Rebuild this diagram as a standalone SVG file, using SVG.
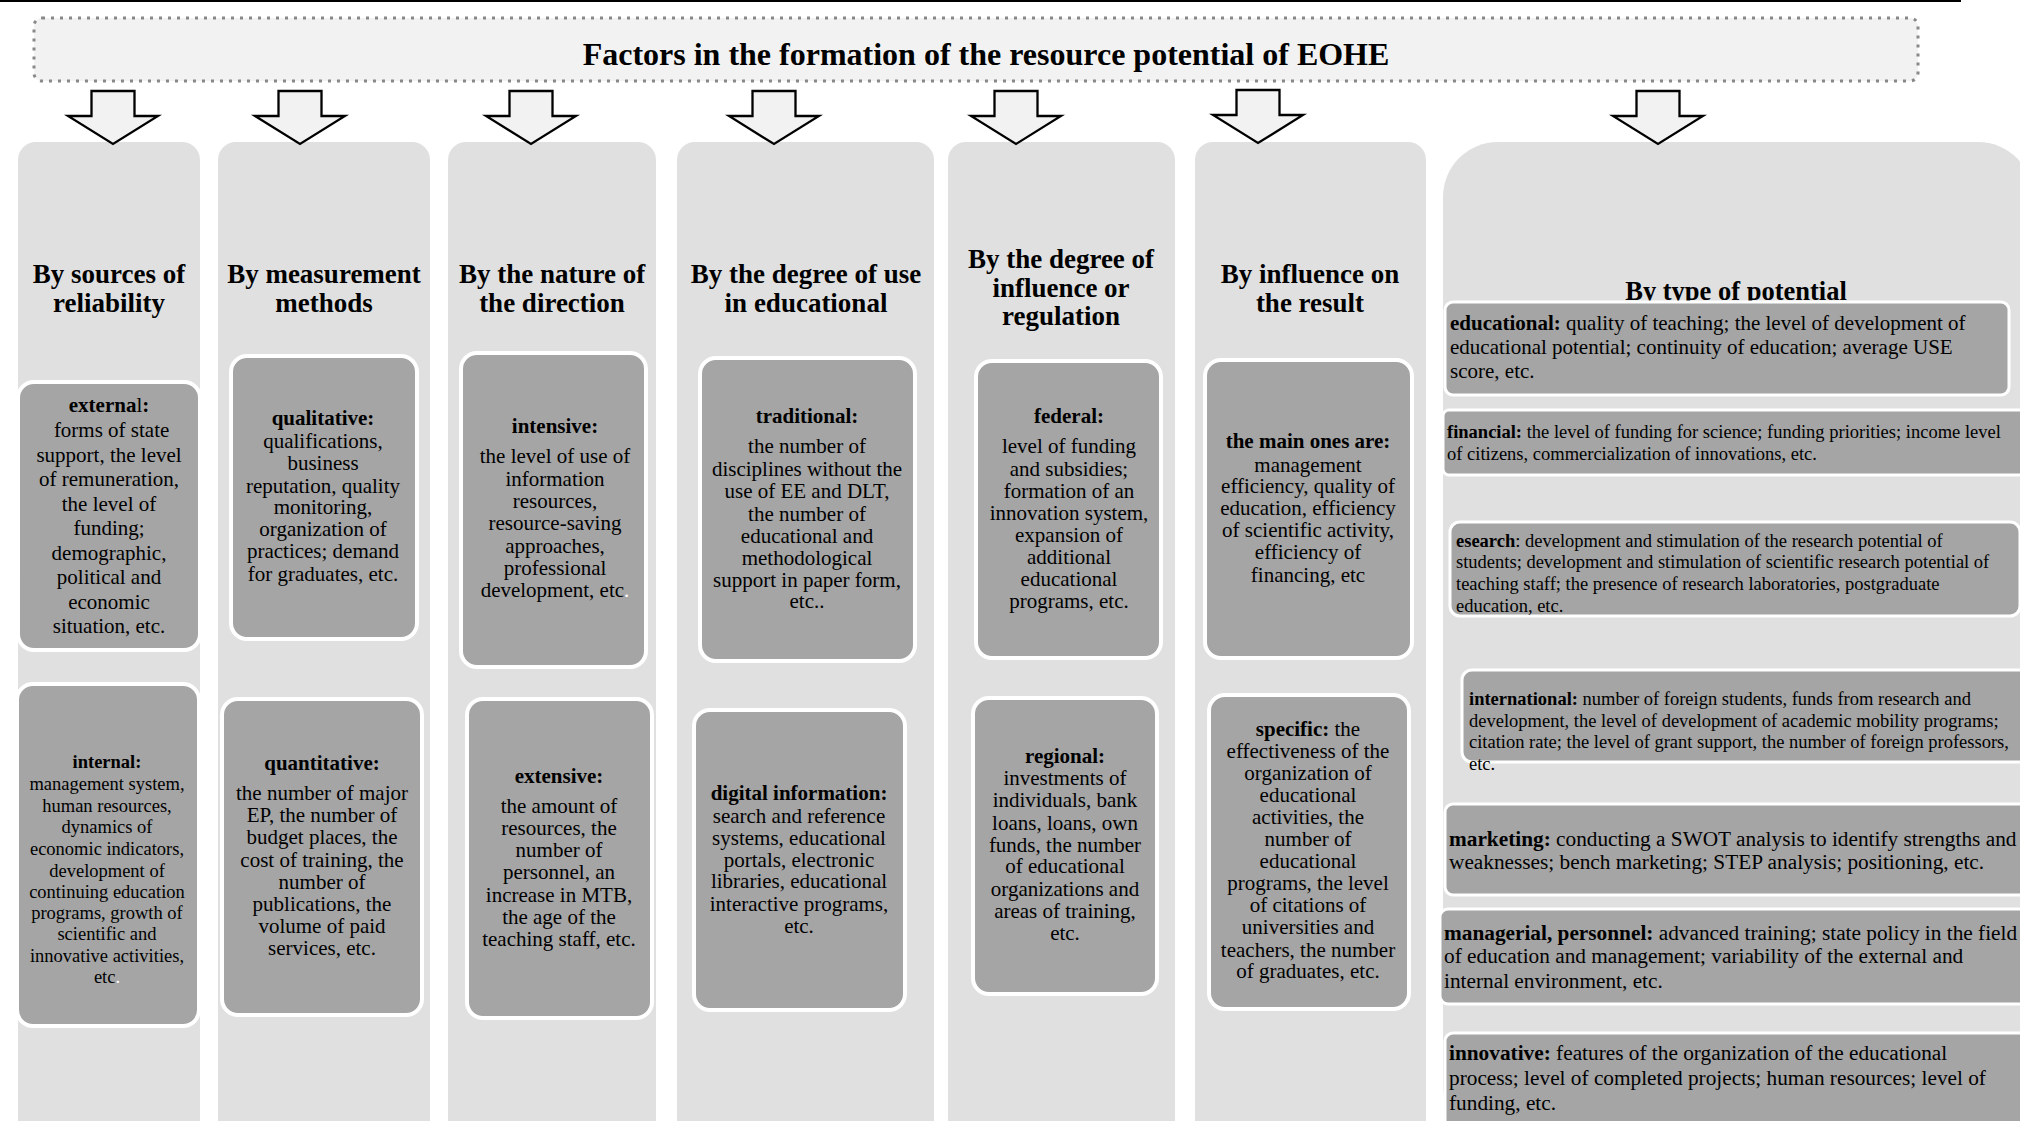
<svg xmlns="http://www.w3.org/2000/svg" width="2020" height="1121" viewBox="0 0 2020 1121">
<style>
.col{fill:#e0e0e0}
.box{fill:#a5a5a5;stroke:#fff;stroke-width:4}
.wbox{fill:#a5a5a5;stroke:#fff;stroke-width:3}
.hd{font-family:"Liberation Serif","Times New Roman",serif;font-weight:bold;font-size:27px;text-anchor:middle;fill:#000}
.t{font-family:"Liberation Serif","Times New Roman",serif;font-size:21px;text-anchor:middle;fill:#000}
.tl{font-family:"Liberation Serif","Times New Roman",serif;fill:#000}
.b{font-weight:bold}
.w{fill:#fff}
.arr{fill:#f2f2f2;stroke:#000;stroke-width:2.3;stroke-linejoin:miter}
</style>
<defs>
<path id="arrow" d="M-21.5,0 H21.5 V25 H45 L0,53 L-45,25 H-21.5 Z"/>
<clipPath id="clipR"><rect x="1450" y="522" width="580" height="93"/></clipPath>
</defs>
<rect width="2020" height="1121" fill="#fff"/>
<line x1="0" y1="1" x2="1961" y2="1" stroke="#000" stroke-width="2"/>

<g id="title">
<rect x="34" y="18" width="1884" height="63" rx="8" fill="#f2f2f2" stroke="#888" stroke-width="3" stroke-dasharray="3,6"/>
<text x="986" y="65" font-family="Liberation Serif, Times New Roman, serif" font-weight="bold" font-size="32" text-anchor="middle" fill="#000">Factors in the formation of the resource potential of EOHE</text>
</g>

<g id="col1">
<rect class="col" x="18" y="142" width="182" height="1000" rx="18"/>
<text class="hd"><tspan x="109" y="283">By sources of</tspan><tspan x="109" y="312">reliability</tspan></text>
<g id="c1-external">
<rect class="box" x="18" y="382" width="182" height="268" rx="16"/>
<text class="t"><tspan x="109" y="412"><tspan class="b">externa</tspan>l<tspan class="b">:</tspan></tspan><tspan x="109" y="437"> forms of state</tspan><tspan x="109" y="462">support, the level</tspan><tspan x="109" y="486">of remuneration,</tspan><tspan x="109" y="511">the level of</tspan><tspan x="109" y="535">funding;</tspan><tspan x="109" y="560">demographic,</tspan><tspan x="109" y="584">political and</tspan><tspan x="109" y="609">economic</tspan><tspan x="109" y="633">situation, etc.</tspan></text>
</g>
<g id="c1-internal">
<rect class="box" x="17" y="684" width="182" height="342" rx="16"/>
<text class="t" style="font-size:18.5px"><tspan x="107" y="768" class="b">internal:</tspan><tspan x="107" y="790">management system,</tspan><tspan x="107" y="812">human resources,</tspan><tspan x="107" y="833">dynamics of</tspan><tspan x="107" y="855">economic indicators,</tspan><tspan x="107" y="877">development of</tspan><tspan x="107" y="898">continuing education</tspan><tspan x="107" y="919">programs, growth of</tspan><tspan x="107" y="940">scientific and</tspan><tspan x="107" y="962">innovative activities,</tspan><tspan x="107" y="983">etc<tspan class="w">.</tspan></tspan></text>
</g>
</g>

<g id="col2">
<rect class="col" x="218" y="142" width="212" height="1000" rx="18"/>
<text class="hd"><tspan x="324" y="283">By measurement</tspan><tspan x="324" y="312">methods</tspan></text>
<g id="c2-qualitative">
<rect class="box" x="231" y="356" width="186" height="283" rx="16"/>
<text class="t"><tspan x="323" y="425" class="b">qualitative:</tspan><tspan x="323" y="448">qualifications,</tspan><tspan x="323" y="470">business</tspan><tspan x="323" y="493">reputation, quality</tspan><tspan x="323" y="514">monitoring,</tspan><tspan x="323" y="536">organization of</tspan><tspan x="323" y="558">practices; demand</tspan><tspan x="323" y="581">for graduates, etc.</tspan></text>
</g>
<g id="c2-quantitative">
<rect class="box" x="222" y="699" width="200" height="316" rx="16"/>
<text class="t"><tspan x="322" y="770" class="b">quantitative:</tspan><tspan x="322" y="800">the number of major</tspan><tspan x="322" y="822">EP, the number of</tspan><tspan x="322" y="844">budget places, the</tspan><tspan x="322" y="867">cost of training, the</tspan><tspan x="322" y="889">number of</tspan><tspan x="322" y="911">publications, the</tspan><tspan x="322" y="933">volume of paid</tspan><tspan x="322" y="955">services, etc.</tspan></text>
</g>
</g>

<g id="col3">
<rect class="col" x="448" y="142" width="208" height="1000" rx="18"/>
<text class="hd"><tspan x="552" y="283">By the nature of</tspan><tspan x="552" y="312">the direction</tspan></text>
<g id="c3-intensive">
<rect class="box" x="461" y="353" width="185" height="314" rx="16"/>
<text class="t"><tspan x="555" y="433" class="b">intensive:</tspan><tspan x="555" y="463">the level of use of</tspan><tspan x="555" y="486">information</tspan><tspan x="555" y="508">resources,</tspan><tspan x="555" y="530">resource-saving</tspan><tspan x="555" y="553">approaches,</tspan><tspan x="555" y="575">professional</tspan><tspan x="555" y="597">development, etc<tspan class="w">.</tspan></tspan></text>
</g>
<g id="c3-extensive">
<rect class="box" x="467" y="699" width="185" height="319" rx="16"/>
<text class="t"><tspan x="559" y="783" class="b">extensive:</tspan><tspan x="559" y="813">the amount of</tspan><tspan x="559" y="835">resources, the</tspan><tspan x="559" y="857">number of</tspan><tspan x="559" y="879">personnel, an</tspan><tspan x="559" y="902">increase in MTB,</tspan><tspan x="559" y="924">the age of the</tspan><tspan x="559" y="946">teaching staff, etc.</tspan></text>
</g>
</g>

<g id="col4">
<rect class="col" x="677" y="142" width="257" height="1000" rx="18"/>
<text class="hd"><tspan x="806" y="283">By the degree of use</tspan><tspan x="806" y="312">in educational</tspan></text>
<g id="c4-traditional">
<rect class="box" x="700" y="358" width="215" height="303" rx="16"/>
<text class="t"><tspan x="807" y="423" class="b">traditional:</tspan><tspan x="807" y="453">the number of</tspan><tspan x="807" y="476">disciplines without the</tspan><tspan x="807" y="498">use of EE and DLT,</tspan><tspan x="807" y="521">the number of</tspan><tspan x="807" y="543">educational and</tspan><tspan x="807" y="565">methodological</tspan><tspan x="807" y="587">support in paper form,</tspan><tspan x="807" y="608">etc..</tspan></text>
</g>
<g id="c4-digital">
<rect class="box" x="694" y="710" width="211" height="300" rx="16"/>
<text class="t"><tspan x="799" y="800" class="b">digital information:</tspan><tspan x="799" y="823">search and reference</tspan><tspan x="799" y="845">systems, educational</tspan><tspan x="799" y="867">portals, electronic</tspan><tspan x="799" y="888">libraries, educational</tspan><tspan x="799" y="911">interactive programs,</tspan><tspan x="799" y="933">etc.</tspan></text>
</g>
</g>

<g id="col5">
<rect class="col" x="948" y="142" width="227" height="1000" rx="18"/>
<text class="hd"><tspan x="1061" y="268">By the degree of</tspan><tspan x="1061" y="297">influence or</tspan><tspan x="1061" y="325">regulation</tspan></text>
<g id="c5-federal">
<rect class="box" x="976" y="361" width="185" height="297" rx="16"/>
<text class="t"><tspan x="1069" y="423" class="b">federal:</tspan><tspan x="1069" y="453">level of funding</tspan><tspan x="1069" y="476">and subsidies;</tspan><tspan x="1069" y="498">formation of an</tspan><tspan x="1069" y="520">innovation system,</tspan><tspan x="1069" y="542">expansion of</tspan><tspan x="1069" y="564">additional</tspan><tspan x="1069" y="586">educational</tspan><tspan x="1069" y="608">programs, etc.</tspan></text>
</g>
<g id="c5-regional">
<rect class="box" x="973" y="698" width="184" height="296" rx="16"/>
<text class="t"><tspan x="1065" y="763" class="b">regional:</tspan><tspan x="1065" y="785">investments of</tspan><tspan x="1065" y="807">individuals, bank</tspan><tspan x="1065" y="830">loans, loans, own</tspan><tspan x="1065" y="852">funds, the number</tspan><tspan x="1065" y="873">of educational</tspan><tspan x="1065" y="896">organizations and</tspan><tspan x="1065" y="918">areas of training,</tspan><tspan x="1065" y="940">etc.</tspan></text>
</g>
</g>

<g id="col6">
<rect class="col" x="1195" y="142" width="231" height="1000" rx="18"/>
<text class="hd"><tspan x="1310" y="283">By influence on</tspan><tspan x="1310" y="312">the result</tspan></text>
<g id="c6-main">
<rect class="box" x="1205" y="360" width="207" height="298" rx="16"/>
<text class="t"><tspan x="1308" y="448" class="b">the main ones are:</tspan><tspan x="1308" y="472">management</tspan><tspan x="1308" y="493">efficiency, quality of</tspan><tspan x="1308" y="515">education, efficiency</tspan><tspan x="1308" y="537">of scientific activity,</tspan><tspan x="1308" y="559">efficiency of</tspan><tspan x="1308" y="582">financing, etc</tspan></text>
</g>
<g id="c6-specific">
<rect class="box" x="1209" y="695" width="200" height="314" rx="16"/>
<text class="t"><tspan x="1308" y="736"><tspan class="b">specific:</tspan> the</tspan><tspan x="1308" y="758">effectiveness of the</tspan><tspan x="1308" y="780">organization of</tspan><tspan x="1308" y="802">educational</tspan><tspan x="1308" y="824">activities, the</tspan><tspan x="1308" y="846">number of</tspan><tspan x="1308" y="868">educational</tspan><tspan x="1308" y="890">programs, the level</tspan><tspan x="1308" y="912">of citations of</tspan><tspan x="1308" y="934">universities and</tspan><tspan x="1308" y="957">teachers, the number</tspan><tspan x="1308" y="978">of graduates, etc.</tspan></text>
</g>
</g>

<g id="col7">
<rect class="col" x="1443" y="142" width="590" height="1000" rx="55"/>
<text class="hd" style="font-size:26.5px" x="1736" y="300">By type of potential</text>
<g id="c7-educational">
<rect class="wbox" x="1445" y="302" width="564" height="93" rx="8"/>
<text class="tl" style="font-size:21px"><tspan x="1450" y="330"><tspan class="b">educational:</tspan> quality of teaching; the level of development of</tspan><tspan x="1450" y="354">educational potential; continuity of education; average USE</tspan><tspan x="1450" y="378">score, etc.</tspan></text>
</g>
<g id="c7-financial">
<rect class="wbox" x="1443" y="410" width="600" height="65" rx="6"/>
<text class="tl" style="font-size:18.5px"><tspan x="1447" y="438"><tspan class="b">financial:</tspan> the level of funding for science; funding priorities; income level</tspan><tspan x="1447" y="460">of citizens, commercialization of innovations, etc.</tspan></text>
</g>
<g id="c7-research">
<rect class="wbox" x="1450" y="522" width="570" height="94" rx="10"/>
<text class="tl" style="font-size:18.5px" clip-path="url(#clipR)"><tspan x="1456" y="547"><tspan class="b">esearch</tspan>: development and stimulation of the research potential of</tspan><tspan x="1456" y="568">students; development and stimulation of scientific research potential of</tspan><tspan x="1456" y="590">teaching staff; the presence of research laboratories, postgraduate</tspan><tspan x="1456" y="612">education, etc.</tspan></text>
</g>
<g id="c7-international">
<rect class="wbox" x="1462" y="670" width="580" height="92" rx="10"/>
<text class="tl" style="font-size:18.5px"><tspan x="1469" y="705"><tspan class="b">international:</tspan> number of foreign students, funds from research and</tspan><tspan x="1469" y="727">development, the level of development of academic mobility programs;</tspan><tspan x="1469" y="748">citation rate; the level of grant support, the number of foreign professors,</tspan><tspan x="1469" y="770">etc.</tspan></text>
</g>
<g id="c7-marketing">
<rect class="wbox" x="1445" y="804" width="600" height="91" rx="8"/>
<text class="tl" style="font-size:21.3px"><tspan x="1449" y="846"><tspan class="b">marketing:</tspan> conducting a SWOT analysis to identify strengths and</tspan><tspan x="1449" y="869">weaknesses; bench marketing; STEP analysis; positioning, etc.</tspan></text>
</g>
<g id="c7-managerial">
<rect class="wbox" x="1440" y="909" width="600" height="95" rx="8"/>
<text class="tl" style="font-size:21.3px"><tspan x="1444" y="940"><tspan class="b">managerial, personnel:</tspan> advanced training; state policy in the field</tspan><tspan x="1444" y="963">of education and management; variability of the external and</tspan><tspan x="1444" y="988">internal environment, etc.</tspan></text>
</g>
<g id="c7-innovative">
<rect class="wbox" x="1445" y="1033" width="600" height="120" rx="8"/>
<text class="tl" style="font-size:21.3px"><tspan x="1449" y="1060"><tspan class="b">innovative:</tspan> features of the organization of the educational</tspan><tspan x="1449" y="1085">process; level of completed projects; human resources; level of</tspan><tspan x="1449" y="1110">funding, etc.</tspan></text>
</g>
</g>

<g id="connectors">
<use href="#arrow" class="arr" x="113" y="91"/>
<use href="#arrow" class="arr" x="300" y="91"/>
<use href="#arrow" class="arr" x="531" y="91"/>
<use href="#arrow" class="arr" x="774" y="91"/>
<use href="#arrow" class="arr" x="1016" y="91"/>
<use href="#arrow" class="arr" x="1258" y="90"/>
<use href="#arrow" class="arr" x="1658" y="91"/>
</g>
</svg>
